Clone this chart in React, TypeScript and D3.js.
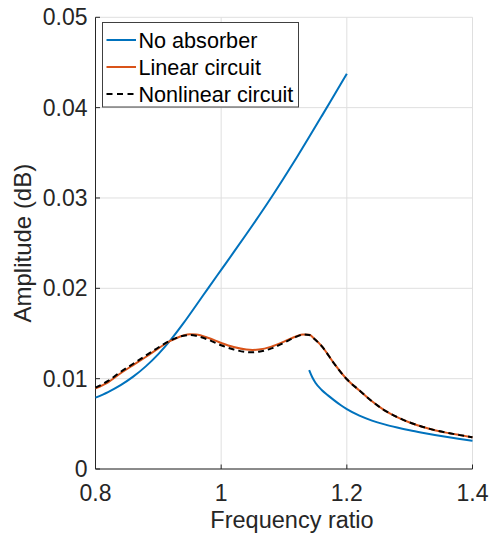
import React from "react";
import * as d3 from "d3";

const noAbsUpperX = [0.8, 0.82, 0.84, 0.86, 0.88, 0.9, 0.92, 0.94, 0.96, 0.98, 1.0, 1.02, 1.04, 1.06, 1.08, 1.1, 1.12, 1.14, 1.16, 1.18, 1.2];
const noAbsUpperY = [0.0079, 0.00852, 0.00928, 0.01022, 0.01136, 0.01272, 0.01432, 0.01614, 0.0181, 0.02008, 0.02204, 0.024, 0.02598, 0.028, 0.03008, 0.03224, 0.03446, 0.03674, 0.03906, 0.0414, 0.04374];

const noAbsLowerX = [1.14, 1.145, 1.15, 1.16, 1.17, 1.18, 1.19, 1.2, 1.22, 1.24, 1.26, 1.28, 1.3, 1.32, 1.34, 1.36, 1.38, 1.4];
const noAbsLowerY = [0.01095, 0.01015, 0.00955, 0.00875, 0.00815, 0.0076, 0.00708, 0.00662, 0.0059, 0.00536, 0.00494, 0.00459, 0.00428, 0.00401, 0.00376, 0.00353, 0.00332, 0.00313];

const circuitX = [0.8, 0.82, 0.84, 0.86, 0.88, 0.9, 0.92, 0.94, 0.95, 0.96, 0.98, 1.0, 1.02, 1.04, 1.05, 1.06, 1.08, 1.1, 1.12, 1.13, 1.14, 1.15, 1.16, 1.18, 1.2, 1.22, 1.24, 1.26, 1.28, 1.3, 1.32, 1.34, 1.36, 1.38, 1.4];
const linearY = [0.00893, 0.0096, 0.0106, 0.0115, 0.0124, 0.01335, 0.0142, 0.01478, 0.01491, 0.01488, 0.0145, 0.01395, 0.0135, 0.01322, 0.01318, 0.01322, 0.01355, 0.0141, 0.0147, 0.0149, 0.01485, 0.0143, 0.0136, 0.01165, 0.00993, 0.0087, 0.0075, 0.0065, 0.00575, 0.00515, 0.00468, 0.0043, 0.004, 0.00375, 0.00351];
const nonlinearY = [0.009, 0.00975, 0.01075, 0.01165, 0.01255, 0.01345, 0.01425, 0.01475, 0.01483, 0.01475, 0.0143, 0.0137, 0.01323, 0.01295, 0.01292, 0.01298, 0.01335, 0.01398, 0.01465, 0.01488, 0.01484, 0.0143, 0.0136, 0.01165, 0.00993, 0.0087, 0.0075, 0.0065, 0.00575, 0.00515, 0.00468, 0.0043, 0.004, 0.00375, 0.00351];

const xTicks = [0.8, 1, 1.2, 1.4];
const xTickLabels = ["0.8", "1", "1.2", "1.4"];
const yTicks = [0, 0.01, 0.02, 0.03, 0.04, 0.05];
const yTickLabels = ["0", "0.01", "0.02", "0.03", "0.04", "0.05"];
const legendLabels = ["No absorber", "Linear circuit", "Nonlinear circuit"];

const W = 490, H = 534;
const M = { left: 95.5, right: 472.5, top: 17.3, bottom: 469 };
const FONT = "'Liberation Sans', Arial, Helvetica, sans-serif";
const TXT = "#262626";
const BLUE = "#0072BD";
const ORANGE = "#D95319";

export default function App() {
  const x = d3.scaleLinear().domain([0.8, 1.4]).range([M.left, M.right]);
  const y = d3.scaleLinear().domain([0, 0.05]).range([M.bottom, M.top]);
  const line = d3.line<[number, number]>().x(d => x(d[0])).y(d => y(d[1])).curve(d3.curveMonotoneX);
  const zip = (xs: number[], ys: number[]) => xs.map((v, i) => [v, ys[i]] as [number, number]);

  const legendRows = [
    { label: legendLabels[0], color: BLUE, dash: undefined },
    { label: legendLabels[1], color: ORANGE, dash: undefined },
    { label: legendLabels[2], color: "#000", dash: "6,4.5" },
  ];
  const legY = [40, 67, 94];

  return (
    <svg width={W} height={H} style={{ position: "absolute", left: 0, top: 0, background: "#fff" }} fontFamily={FONT}>
      <rect x={0} y={0} width={W} height={H} fill="#fff" />
      {xTicks.map((t, i) => (
        <line key={"gx" + i} x1={x(t)} x2={x(t)} y1={M.top} y2={M.bottom} stroke="#dfdfdf" strokeWidth={1} />
      ))}
      {yTicks.map((t, i) => (
        <line key={"gy" + i} x1={M.left} x2={M.right} y1={y(t)} y2={y(t)} stroke="#dfdfdf" strokeWidth={1} />
      ))}
      <line x1={M.left} x2={M.right} y1={M.bottom} y2={M.bottom} stroke={TXT} strokeWidth={1} />
      <line x1={M.left} x2={M.left} y1={M.top} y2={M.bottom} stroke={TXT} strokeWidth={1} />
      {xTicks.map((t, i) => (
        <line key={"tx" + i} x1={x(t)} x2={x(t)} y1={M.bottom} y2={M.bottom - 4.5} stroke={TXT} strokeWidth={1} />
      ))}
      {yTicks.map((t, i) => (
        <line key={"ty" + i} x1={M.left} x2={M.left + 4.5} y1={y(t)} y2={y(t)} stroke={TXT} strokeWidth={1} />
      ))}
      {xTicks.map((t, i) => (
        <text key={"lx" + i} x={x(t)} y={501} textAnchor="middle" fontSize={23} fill={TXT}>{xTickLabels[i]}</text>
      ))}
      {yTicks.map((t, i) => (
        <text key={"ly" + i} x={87.5} y={y(t)} dy="0.35em" textAnchor="end" fontSize={23} fill={TXT}>{yTickLabels[i]}</text>
      ))}
      <text x={292} y={528} textAnchor="middle" fontSize={23.5} fill={TXT}>Frequency ratio</text>
      <text transform={`translate(30.5,${(M.top + M.bottom) / 2}) rotate(-90)`} textAnchor="middle" fontSize={24} fill={TXT}>Amplitude (dB)</text>

      <path d={line(zip(noAbsUpperX, noAbsUpperY)) || ""} fill="none" stroke={BLUE} strokeWidth={2} />
      <path d={line(zip(noAbsLowerX, noAbsLowerY)) || ""} fill="none" stroke={BLUE} strokeWidth={2} />
      <path d={line(zip(circuitX, linearY)) || ""} fill="none" stroke={ORANGE} strokeWidth={2} />
      <path d={line(zip(circuitX, nonlinearY)) || ""} fill="none" stroke="#000" strokeWidth={2} strokeDasharray="6,4" />

      <rect x={102.5} y={22.5} width={196} height={84.5} fill="#fff" stroke="#404040" strokeWidth={1} />
      {legendRows.map((r, i) => (
        <g key={"lg" + i}>
          <line x1={106.5} x2={136} y1={legY[i]} y2={legY[i]} stroke={r.color} strokeWidth={2} strokeDasharray={r.dash} />
          <text x={138.5} y={legY[i]} dy="0.35em" fontSize={21.6} fill="#000">{r.label}</text>
        </g>
      ))}
    </svg>
  );
}
